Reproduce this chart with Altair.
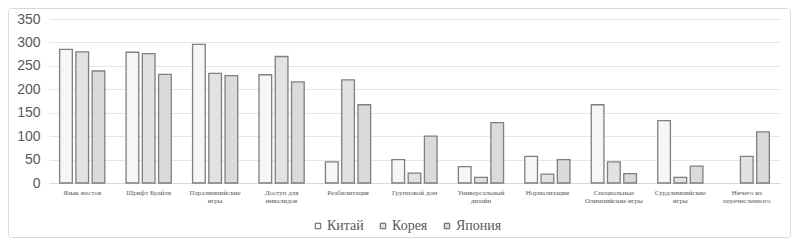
import altair as alt
import pandas as pd

categories = [
    "Язык жестов", "Шрифт Брайля", "Паралимпийские игры", "Доступ для инвалидов",
    "Реабилитация", "Групповой дом", "Универсальный дизайн", "Нормализация",
    "Специальные Олимпийские игры", "Сурдлимпийские игры", "Ничего из перечисленного",
]
label_lines = [
    ["Язык жестов"], ["Шрифт Брайля"], ["Паралимпийские", "игры"], ["Доступ для", "инвалидов"],
    ["Реабилитация"], ["Групповой дом"], ["Универсальный", "дизайн"], ["Нормализация"],
    ["Специальные", "Олимпийские  игры"], ["Сурдлимпийские", "игры"], ["Ничего из", "перечисленного"],
]
series = ["Китай", "Корея", "Япония"]
china = [285, 279, 296, 231, 45, 50, 35, 57, 167, 133, 0]
korea = [280, 276, 234, 270, 220, 21, 12, 19, 45, 12, 57]
japan = [239, 232, 229, 216, 167, 100, 129, 50, 20, 36, 109]
y_ticks = [0, 50, 100, 150, 200, 250, 300, 350]

rows = []
for i, c in enumerate(categories):
    for s, vals in zip(series, [china, korea, japan]):
        rows.append({"cat": c, "series": s, "value": vals[i]})
df = pd.DataFrame(rows)

expr = ""
for c, lines in zip(categories, label_lines):
    arr = "[" + ",".join("'" + l + "'" for l in lines) + "]"
    expr += f"datum.value == '{c}' ? {arr} : "
expr += "datum.value"

W, H = 731, 164

bars = alt.Chart(df).transform_filter("datum.value > 0").mark_bar(stroke="#7f7f7f", strokeWidth=1.3).encode(
    x=alt.X("cat:N", sort=categories, title=None,
            scale=alt.Scale(domain=categories, paddingInner=0.32, paddingOuter=0.16),
            axis=alt.Axis(labelExpr=expr, labelAngle=0, labelFontSize=7, labelColor="#595959",
                          labelFont="Liberation Serif", ticks=False, domain=True,
                          domainColor="#d9d9d9", labelPadding=5, labelLineHeight=8)),
    xOffset=alt.XOffset("series:N", sort=series, scale=alt.Scale(domain=series, paddingInner=0.22)),
    y=alt.Y("value:Q", title=None,
            scale=alt.Scale(domain=[0, 350], nice=False),
            axis=alt.Axis(values=y_ticks, labelFontSize=14, labelColor="#595959",
                          labelFont="Liberation Sans", ticks=False, domain=False,
                          gridColor="#e6e6e6", labelPadding=9)),
    color=alt.Color("series:N", sort=series, title=None,
                    scale=alt.Scale(domain=series, range=["#f6f6f6", "#e2e2e2", "#dadada"]),
                    legend=alt.Legend(orient="none", direction="horizontal", legendX=262, legendY=200,
                                      symbolType="square", symbolSize=30, symbolStrokeColor="#595959",
                                      symbolStrokeWidth=1, labelFontSize=14, labelFont="Liberation Serif",
                                      labelColor="#595959", columnPadding=12, labelOffset=2)),
)

border = alt.Chart(pd.DataFrame({"a": [0]})).mark_rect(
    fill=None, stroke="#d9d9d9", strokeWidth=1, cornerRadius=3, clip=False
).encode(x=alt.value(-40.5), x2=alt.value(741.5), y=alt.value(-10.5), y2=alt.value(218.5))

chart = alt.layer(border, bars).properties(
    width=W, height=H,
    autosize=alt.AutoSizeParams(type="none"),
    padding={"left": 41, "top": 11, "right": 11, "bottom": 55},
).configure_view(stroke=None)

chart.save("out.html", embed_options={"renderer": "svg", "actions": False})
